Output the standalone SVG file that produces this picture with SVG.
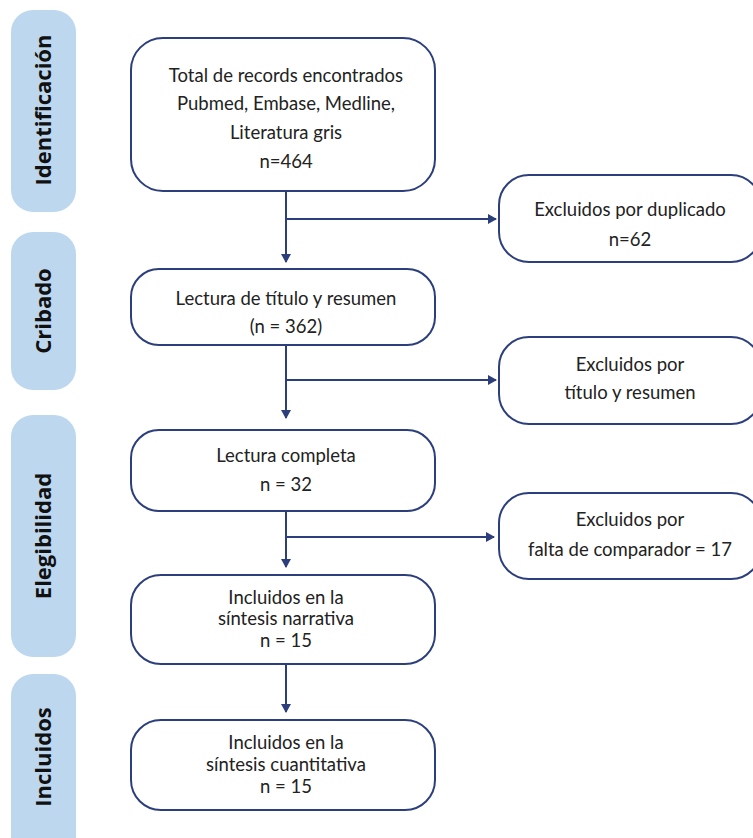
<svg xmlns="http://www.w3.org/2000/svg" width="753" height="838" viewBox="0 0 753 838">
<style>
.tab{fill:#bdd7ee;}
.tabt{font-family:"Open Sans","Liberation Sans",sans-serif;font-weight:bold;font-size:22px;fill:#111;text-anchor:middle;}
.box{fill:#fff;stroke:#2c3f7c;stroke-width:2;}
.t{font-family:Lato,"Liberation Sans",sans-serif;font-size:18.5px;fill:#222;text-anchor:middle;}
.c{fill:none;stroke:#2c3f7c;stroke-width:2;}
</style>
<defs>
<marker id="ah" markerWidth="10" markerHeight="10" refX="8" refY="5" orient="auto" markerUnits="userSpaceOnUse">
<path d="M0,0 L9,5 L0,10 Z" fill="#2c3f7c"/>
</marker>
</defs>
<rect width="753" height="838" fill="#fff"/>
<g id="tab-identificacion"><rect class="tab" x="11" y="10" width="65" height="202" rx="22"/><text class="tabt" transform="translate(51,110) rotate(-90)">Identificación</text></g>
<g id="tab-cribado"><rect class="tab" x="11" y="232" width="65" height="158" rx="22"/><text class="tabt" transform="translate(51,311) rotate(-90)">Cribado</text></g>
<g id="tab-elegibilidad"><rect class="tab" x="11" y="415" width="65" height="242" rx="22"/><text class="tabt" transform="translate(51,536) rotate(-90)">Elegibilidad</text></g>
<g id="tab-incluidos"><rect class="tab" x="11" y="674" width="65" height="190" rx="22"/><text class="tabt" transform="translate(51,757) rotate(-90)">Incluidos</text></g>

<g id="connectors">
<line class="c" x1="286" y1="191" x2="286" y2="262" marker-end="url(#ah)"/>
<line class="c" x1="286" y1="219" x2="496" y2="219" marker-end="url(#ah)"/>
<line class="c" x1="286" y1="345" x2="286" y2="418" marker-end="url(#ah)"/>
<line class="c" x1="286" y1="380" x2="496" y2="380" marker-end="url(#ah)"/>
<line class="c" x1="286" y1="511" x2="286" y2="567" marker-end="url(#ah)"/>
<line class="c" x1="286" y1="537" x2="494" y2="537" marker-end="url(#ah)"/>
<line class="c" x1="286" y1="664" x2="286" y2="712" marker-end="url(#ah)"/>
</g>

<g id="n-total"><rect class="box" x="131" y="38" width="304" height="153" rx="32"/>
<text class="t" x="286" y="82">Total de records encontrados</text>
<text class="t" x="286" y="110">Pubmed, Embase, Medline,</text>
<text class="t" x="286" y="139">Literatura gris</text>
<text class="t" x="286" y="168">n=464</text></g>

<g id="n-dup"><rect class="box" x="499" y="175" width="262" height="87" rx="30"/>
<text class="t" x="630" y="216">Excluidos por duplicado</text>
<text class="t" x="630" y="246">n=62</text></g>

<g id="n-lectura"><rect class="box" x="131" y="269" width="304" height="76" rx="28"/>
<text class="t" x="286" y="305">Lectura de título y resumen</text>
<text class="t" x="286" y="333">(n = 362)</text></g>

<g id="n-titulo"><rect class="box" x="499" y="337" width="262" height="87" rx="30"/>
<text class="t" x="630" y="371">Excluidos por</text>
<text class="t" x="630" y="399">título y resumen</text></g>

<g id="n-completa"><rect class="box" x="131" y="430" width="304" height="81" rx="28"/>
<text class="t" x="286" y="462">Lectura completa</text>
<text class="t" x="286" y="491">n = 32</text></g>

<g id="n-comparador"><rect class="box" x="499" y="493" width="262" height="86" rx="30"/>
<text class="t" x="630" y="526">Excluidos por</text>
<text class="t" x="630" y="556">falta de comparador = 17</text></g>

<g id="n-narrativa"><rect class="box" x="131" y="575" width="304" height="89" rx="30"/>
<text class="t" x="286" y="604">Incluidos en la</text>
<text class="t" x="286" y="625">síntesis narrativa</text>
<text class="t" x="286" y="647">n = 15</text></g>

<g id="n-cuantitativa"><rect class="box" x="131" y="720" width="304" height="90" rx="30"/>
<text class="t" x="286" y="749">Incluidos en la</text>
<text class="t" x="286" y="771">síntesis cuantitativa</text>
<text class="t" x="286" y="793">n = 15</text></g>
</svg>
